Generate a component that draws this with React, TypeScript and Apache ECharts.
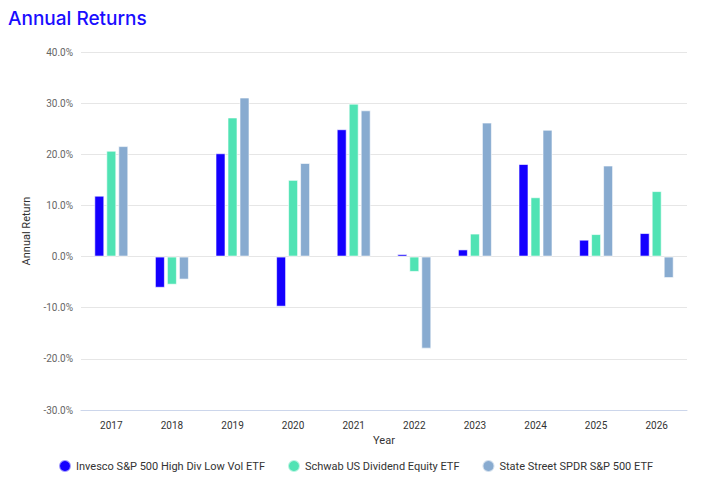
import React, { useEffect, useRef } from "react";
import * as echarts from "echarts";

const categories = ["2017", "2018", "2019", "2020", "2021", "2022", "2023", "2024", "2025", "2026"];
const seriesNames = [
  "Invesco S&P 500 High Div Low Vol ETF",
  "Schwab US Dividend Equity ETF",
  "State Street SPDR S&P 500 ETF",
];
const invesco = [11.9, -6.1, 20.2, -9.8, 24.9, 0.5, 1.4, 18.1, 3.3, 4.6];
const schwab = [20.7, -5.5, 27.2, 15.0, 29.9, -3.0, 4.5, 11.6, 4.4, 12.8];
const spdr = [21.6, -4.5, 31.1, 18.3, 28.6, -18.0, 26.2, 24.8, 17.8, -4.2];
const colors = ["#1400FF", "#50E3B4", "#88ABD0"];

export default function App() {
  const ref = useRef<HTMLDivElement>(null);
  useEffect(() => {
    const chart = echarts.init(ref.current!, null, { renderer: "svg" });
    const data = [invesco, schwab, spdr];
    chart.setOption({
      animation: false,
      title: {
        text: "Annual Returns",
        left: 0,
        top: 1,
        padding: 0,
        textStyle: { color: "#1a0dff", fontSize: 19, fontWeight: 500, fontFamily: "Inter" },
      },
      legend: {
        bottom: 3,
        left: 50,
        padding: 0,
        icon: "circle",
        itemWidth: 12,
        itemHeight: 12,
        itemGap: 22,
        textStyle: { color: "#333", fontSize: 11, fontFamily: "Roboto" },
        data: seriesNames,
      },
      grid: { left: 73, right: 13, top: 44, bottom: 66 },
      xAxis: {
        type: "category",
        data: categories,
        name: "Year",
        nameLocation: "middle",
        nameGap: 22,
        nameTextStyle: { color: "#333", fontSize: 11, fontFamily: "Roboto" },
        axisLine: { show: true, onZero: false, lineStyle: { color: "#ccd6eb" } },
        axisTick: { show: false },
        axisLabel: { color: "#333", fontSize: 10, fontFamily: "Roboto", margin: 10 },
      },
      yAxis: {
        type: "value",
        min: -30,
        max: 40,
        interval: 10,
        name: "Annual Return",
        nameLocation: "middle",
        nameGap: 49,
        nameTextStyle: { color: "#333", fontSize: 11, fontFamily: "Roboto" },
        axisLine: { show: false },
        axisTick: { show: false },
        axisLabel: {
          color: "#666",
          fontSize: 10,
          fontFamily: "Roboto",
          formatter: (v: number) => v.toFixed(1) + "%",
        },
        splitLine: { lineStyle: { color: "#e6e6e6" } },
      },
      series: seriesNames.map((name, i) => ({
        name,
        type: "bar",
        data: data[i],
        barWidth: 10,
        barGap: "20%",
        itemStyle: { color: colors[i], borderColor: "rgba(255,255,255,0.6)", borderWidth: 1 },
      })),
    });
    return () => chart.dispose();
  }, []);
  return <div ref={ref} style={{ width: 692, height: 468 }} />;
}
